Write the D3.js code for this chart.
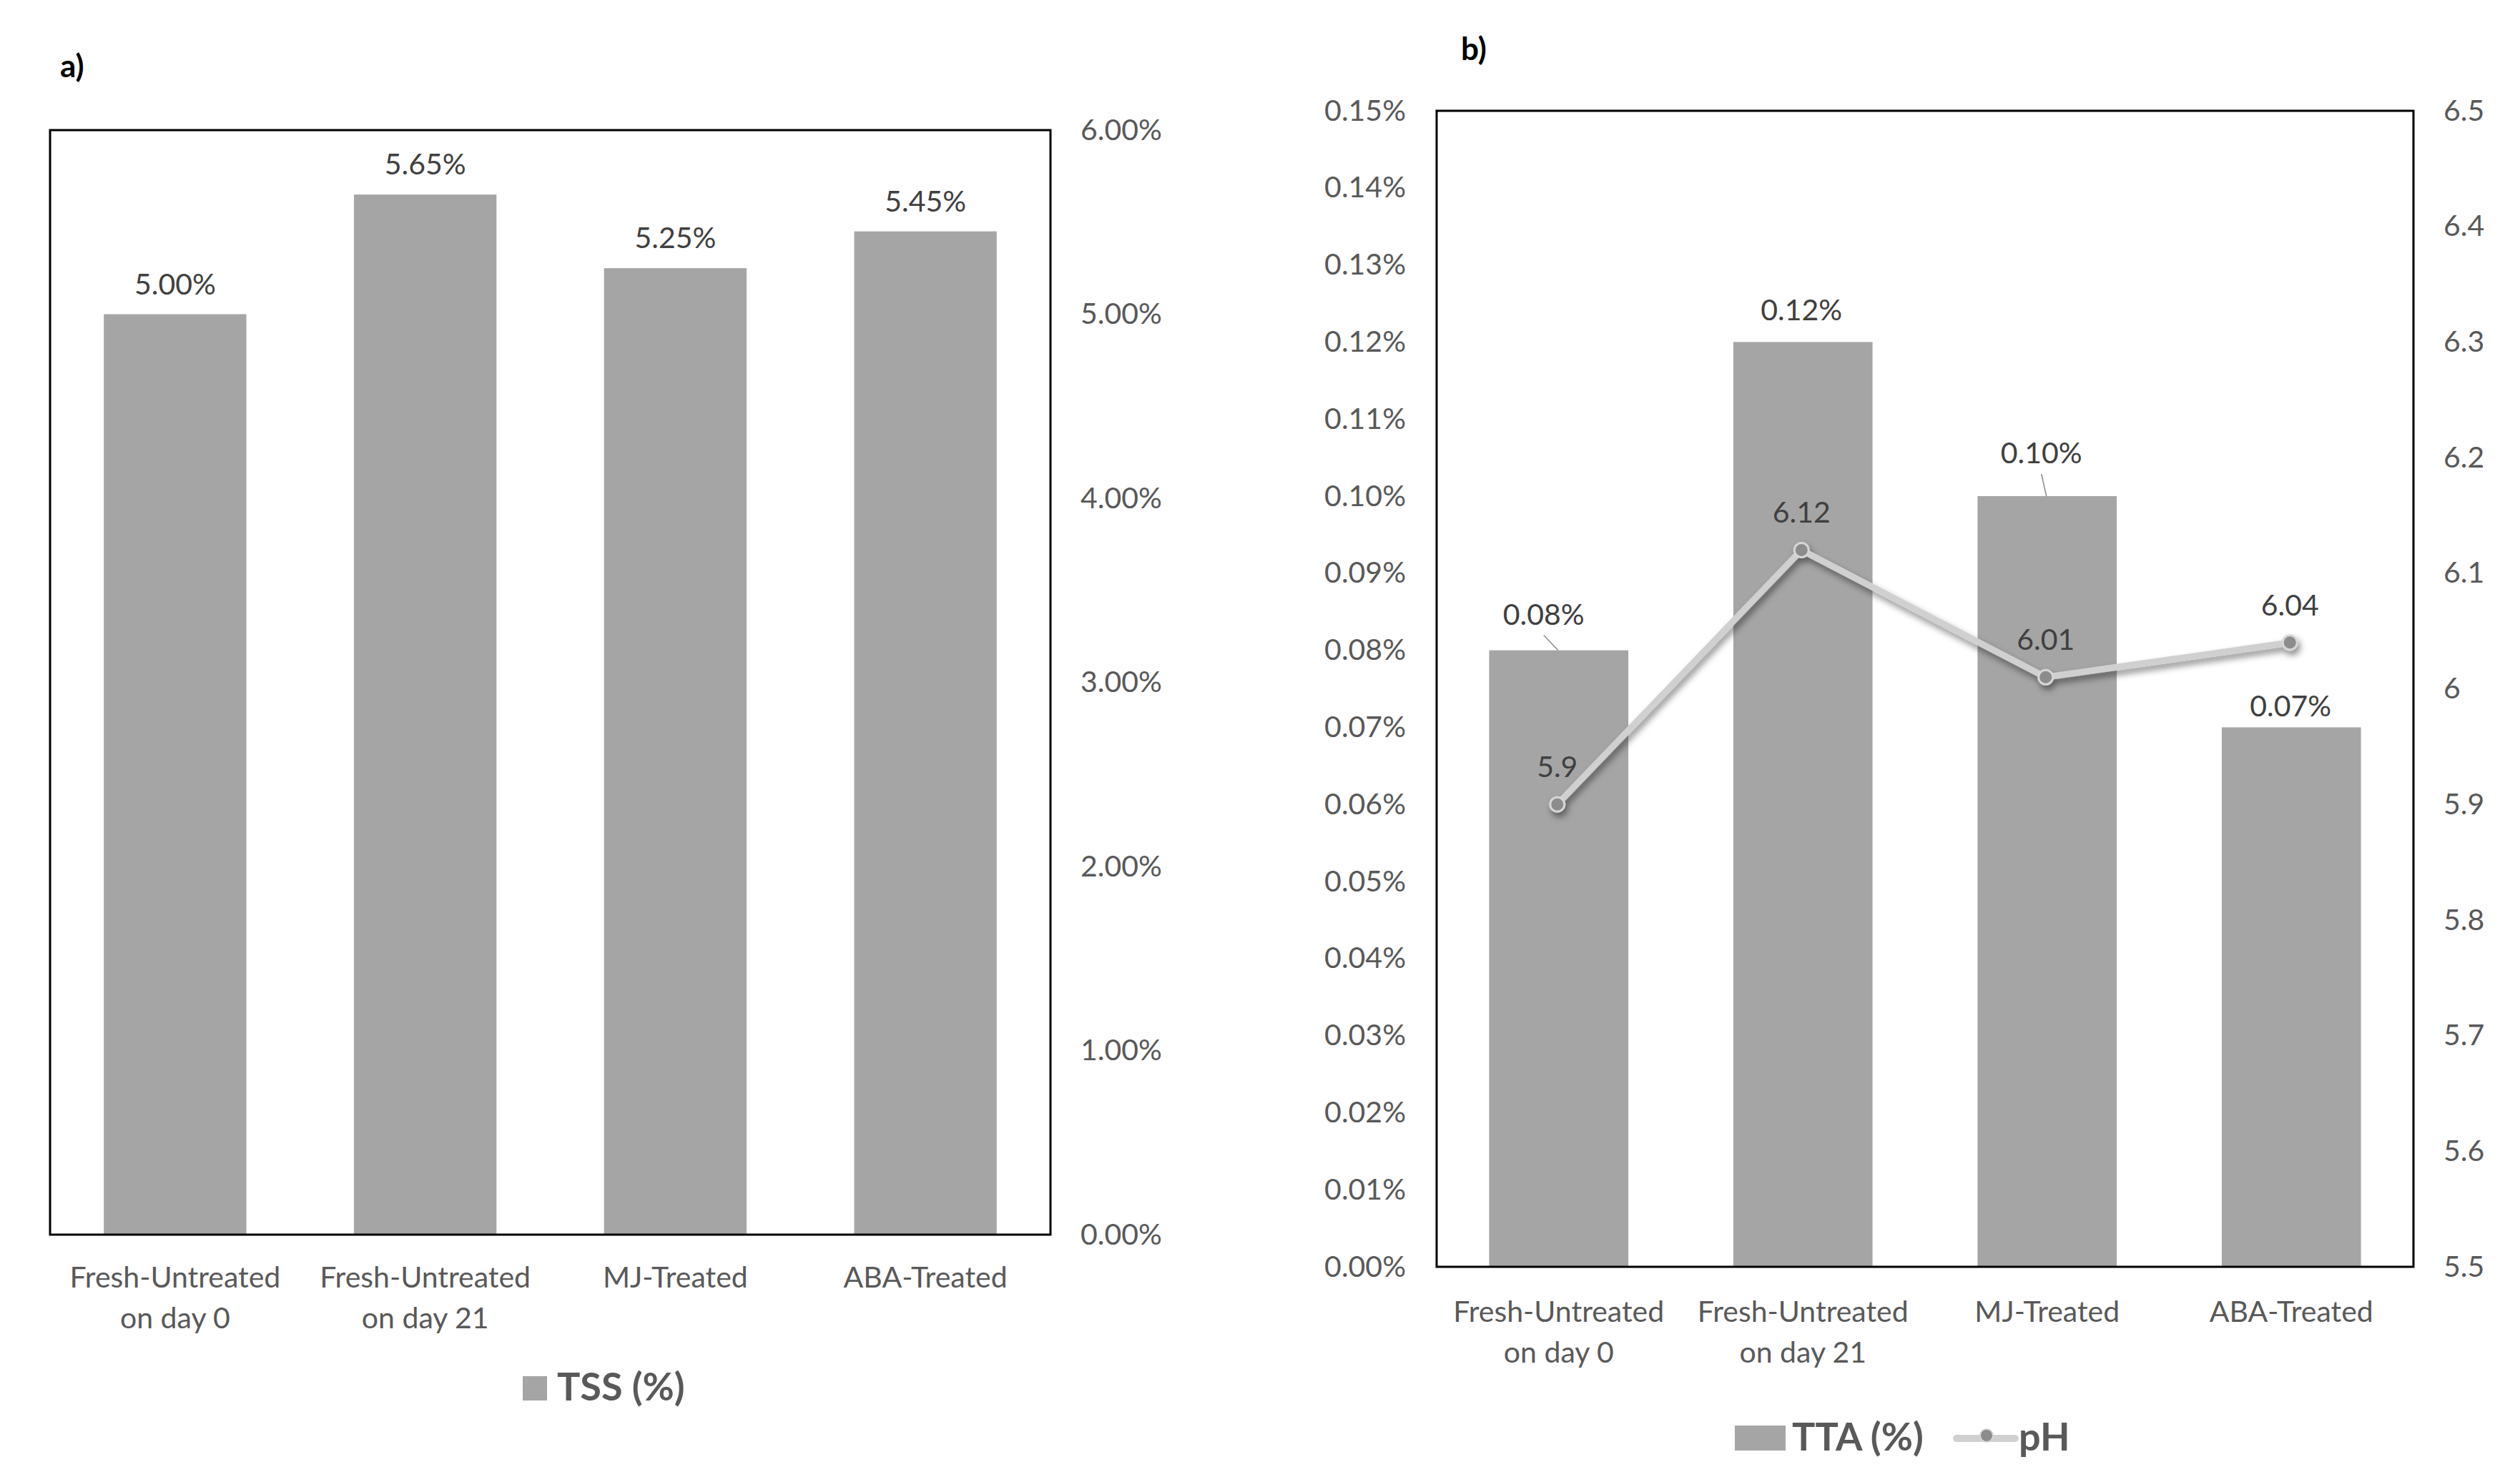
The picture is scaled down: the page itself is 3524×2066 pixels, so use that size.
<!DOCTYPE html>
<html>
<head>
<meta charset="utf-8">
<script src="https://cdn.jsdelivr.net/npm/d3@7"></script>
<style>
  html, body { margin: 0; padding: 0; background: #fff; }
  svg { display: block; font-family: "Lato", "Open Sans", sans-serif; }
</style>
</head>
<body>
<svg id="chart" width="3524" height="2066"></svg>
<script>
// data
const categories = [
    ["Fresh-Untreated", "on day 0"],
    ["Fresh-Untreated", "on day 21"],
    ["MJ-Treated"],
    ["ABA-Treated"]
];
const catKeys = categories.map(c => c.join(" "));
const tssValues = [0.05, 0.0565, 0.0525, 0.0545];
const ttaValues = [0.0008, 0.0012, 0.0010, 0.0007];
const phValues = [5.9, 6.12, 6.01, 6.04];
const tssTicks = [0, 0.01, 0.02, 0.03, 0.04, 0.05, 0.06];
const ttaTicks = d3.range(0, 16).map(i => i / 10000);
const phTicks = d3.range(0, 11).map(i => 5.5 + i / 10);

// label nudges for panel b (Excel labels were dragged by hand)
const ttaLabelLayout = [
    { dx: -21, gap: 36, leader: true },
    { dx: -2, gap: 30, leader: false },
    { dx: -8, gap: 46, leader: true },
    { dx: -1, gap: 15, leader: false }
];

const barColor = "#a5a5a5";
const tickColor = "#595959";
const labelColor = "#404040";
const fontSize = 41;

const svg = d3.select("#chart");

const defs = svg.append("defs");
defs.append("filter")
    .attr("id", "lineShadow")
    .attr("x", "-20%").attr("y", "-20%")
    .attr("width", "140%").attr("height", "140%")
    .append("feDropShadow")
    .attr("dx", 3).attr("dy", 6)
    .attr("stdDeviation", 5)
    .attr("flood-color", "#000")
    .attr("flood-opacity", 0.45);

const pct = d3.format(".2%");

function categoryLabels(g, x, yBase) {
    categories.forEach((lines, i) => {
        const t = g.append("text")
            .attr("x", x(catKeys[i]) + x.bandwidth() / 2)
            .attr("y", yBase)
            .attr("text-anchor", "middle")
            .attr("fill", tickColor)
            .style("font-size", fontSize + "px");
        lines.forEach((ln, j) => {
            t.append("tspan")
                .attr("x", x(catKeys[i]) + x.bandwidth() / 2)
                .attr("dy", j === 0 ? 0 : 57)
                .text(ln);
        });
    });
}

// ---------- panel a ----------
const boxA = { left: 70, top: 182, right: 1469, bottom: 1727 };

const xA = d3.scaleBand()
    .domain(catKeys)
    .range([boxA.left, boxA.right])
    .paddingInner(0.43)
    .paddingOuter(0.215);

const yA = d3.scaleLinear()
    .domain([0, 0.06])
    .range([boxA.bottom, boxA.top]);

const gA = svg.append("g");

gA.append("text")
    .attr("x", 84).attr("y", 108)
    .style("font-size", "44px").style("font-weight", "bold")
    .attr("fill", "#000")
    .text("a)");

gA.selectAll("rect.bar")
    .data(tssValues)
    .join("rect")
    .attr("class", "bar")
    .attr("x", (d, i) => xA(catKeys[i]))
    .attr("y", d => yA(d))
    .attr("width", xA.bandwidth())
    .attr("height", d => yA(0) - yA(d))
    .attr("fill", barColor);

gA.append("rect")
    .attr("x", boxA.left).attr("y", boxA.top)
    .attr("width", boxA.right - boxA.left)
    .attr("height", boxA.bottom - boxA.top)
    .attr("fill", "none")
    .attr("stroke", "#000")
    .attr("stroke-width", 3);

const axisA = d3.axisRight(yA)
    .tickValues(tssTicks)
    .tickFormat(pct)
    .tickSize(0)
    .tickPadding(0);

gA.append("g")
    .attr("transform", "translate(1511,0)")
    .call(axisA)
    .call(g => g.select(".domain").remove())
    .call(g => g.selectAll("text")
        .attr("fill", tickColor)
        .style("font-size", fontSize + "px")
        .style("font-family", "Lato, sans-serif"));

gA.selectAll("text.val")
    .data(tssValues)
    .join("text")
    .attr("class", "val")
    .attr("x", (d, i) => xA(catKeys[i]) + xA.bandwidth() / 2)
    .attr("y", d => yA(d) - 28)
    .attr("text-anchor", "middle")
    .attr("fill", labelColor)
    .style("font-size", fontSize + "px")
    .text(d => pct(d));

categoryLabels(gA, xA, boxA.bottom + 74);

// legend a
gA.append("rect")
    .attr("x", 731).attr("y", 1925)
    .attr("width", 34).attr("height", 34)
    .attr("fill", barColor);
gA.append("text")
    .attr("x", 779).attr("y", 1959)
    .attr("fill", tickColor)
    .style("font-size", "54px").style("font-weight", "bold")
    .text("TSS (%)");

// ---------- panel b ----------
const boxB = { left: 2009, top: 155, right: 3375, bottom: 1772 };

const xB = d3.scaleBand()
    .domain(catKeys)
    .range([boxB.left, boxB.right])
    .paddingInner(0.43)
    .paddingOuter(0.215);

const yB = d3.scaleLinear()
    .domain([0, 0.0015])
    .range([boxB.bottom, boxB.top]);

const yPH = d3.scaleLinear()
    .domain([5.5, 6.5])
    .range([boxB.bottom, boxB.top]);

const gB = svg.append("g");

gB.append("text")
    .attr("x", 2043).attr("y", 84)
    .style("font-size", "44px").style("font-weight", "bold")
    .attr("fill", "#000")
    .text("b)");

gB.selectAll("rect.bar")
    .data(ttaValues)
    .join("rect")
    .attr("class", "bar")
    .attr("x", (d, i) => xB(catKeys[i]))
    .attr("y", d => yB(d))
    .attr("width", xB.bandwidth())
    .attr("height", d => yB(0) - yB(d))
    .attr("fill", barColor);

gB.append("rect")
    .attr("x", boxB.left).attr("y", boxB.top)
    .attr("width", boxB.right - boxB.left)
    .attr("height", boxB.bottom - boxB.top)
    .attr("fill", "none")
    .attr("stroke", "#000")
    .attr("stroke-width", 3);

const axisBL = d3.axisLeft(yB)
    .tickValues(ttaTicks)
    .tickFormat(pct)
    .tickSize(0)
    .tickPadding(0);

gB.append("g")
    .attr("transform", "translate(1966,0)")
    .call(axisBL)
    .call(g => g.select(".domain").remove())
    .call(g => g.selectAll("text")
        .attr("fill", tickColor)
        .style("font-size", fontSize + "px")
        .style("font-family", "Lato, sans-serif"));

const axisBR = d3.axisRight(yPH)
    .tickValues(phTicks)
    .tickFormat(d => String(+d.toFixed(1)))
    .tickSize(0)
    .tickPadding(0);

gB.append("g")
    .attr("transform", "translate(3417,0)")
    .call(axisBR)
    .call(g => g.select(".domain").remove())
    .call(g => g.selectAll("text")
        .attr("fill", tickColor)
        .style("font-size", fontSize + "px")
        .style("font-family", "Lato, sans-serif"));

// TTA labels + leader lines
ttaValues.forEach((d, i) => {
    const cx = xB(catKeys[i]) + xB.bandwidth() / 2;
    const lay = ttaLabelLayout[i];
    const lx = cx + lay.dx;
    const ly = yB(d) - lay.gap;
    if (lay.leader) {
        gB.append("line")
            .attr("x1", lx).attr("y1", ly + 15)
            .attr("x2", cx - 1).attr("y2", yB(d))
            .attr("stroke", "#8c8c8c")
            .attr("stroke-width", 1.5);
    }
    gB.append("text")
        .attr("x", lx).attr("y", ly)
        .attr("text-anchor", "middle")
        .attr("fill", labelColor)
        .style("font-size", fontSize + "px")
        .text(pct(d));
});

// pH line
const line = d3.line()
    .x((d, i) => xB(catKeys[i]) + xB.bandwidth() / 2 - 2)
    .y(d => yPH(d));

const gLine = gB.append("g").attr("filter", "url(#lineShadow)");

gLine.append("path")
    .datum(phValues)
    .attr("d", line)
    .attr("fill", "none")
    .attr("stroke", "#d0d0d0")
    .attr("stroke-width", 9)
    .attr("stroke-linejoin", "round");

gLine.selectAll("circle")
    .data(phValues)
    .join("circle")
    .attr("cx", (d, i) => xB(catKeys[i]) + xB.bandwidth() / 2 - 2)
    .attr("cy", d => yPH(d))
    .attr("r", 10)
    .attr("fill", "#8c8c8c")
    .attr("stroke", "#d6d6d6")
    .attr("stroke-width", 3);

gB.selectAll("text.ph")
    .data(phValues)
    .join("text")
    .attr("class", "ph")
    .attr("x", (d, i) => xB(catKeys[i]) + xB.bandwidth() / 2 - 2)
    .attr("y", d => yPH(d) - 38)
    .attr("text-anchor", "middle")
    .attr("fill", labelColor)
    .style("font-size", fontSize + "px")
    .text(d => String(d));

categoryLabels(gB, xB, boxB.bottom + 77);

// legend b
gB.append("rect")
    .attr("x", 2426).attr("y", 1994)
    .attr("width", 71).attr("height", 35)
    .attr("fill", barColor);
gB.append("text")
    .attr("x", 2506).attr("y", 2029)
    .attr("fill", tickColor)
    .style("font-size", "54px").style("font-weight", "bold")
    .text("TTA (%)");
gB.append("line")
    .attr("x1", 2736).attr("y1", 2012)
    .attr("x2", 2818).attr("y2", 2012)
    .attr("stroke", "#d0d0d0")
    .attr("stroke-width", 10)
    .attr("stroke-linecap", "round");
gB.append("circle")
    .attr("cx", 2778).attr("cy", 2008)
    .attr("r", 9)
    .attr("fill", "#8c8c8c")
    .attr("stroke", "#d6d6d6")
    .attr("stroke-width", 2);
gB.append("text")
    .attr("x", 2823).attr("y", 2029)
    .attr("fill", tickColor)
    .style("font-size", "54px").style("font-weight", "bold")
    .text("pH");
</script>
</body>
</html>
